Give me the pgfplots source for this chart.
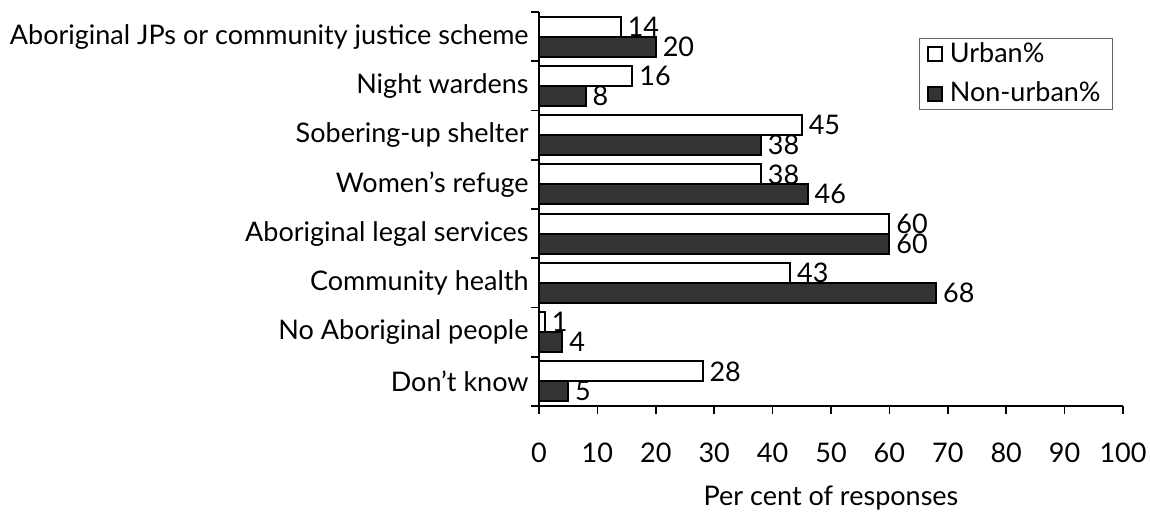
\documentclass[border=0pt]{standalone}
\usepackage{pgfplots}
\pgfplotsset{compat=1.18}
\usepackage{fontspec}
\setmainfont{Lato}
\definecolor{darkbar}{RGB}{51,51,51}
\begin{document}
\fontsize{13.5}{16}\selectfont
\begin{tikzpicture}
\begin{axis}[
    at={(269.5pt,55pt)}, anchor=south west,
    scale only axis,
    width=292pt, height=197pt,
    xbar, bar width=10pt,
    xmin=0, xmax=100,
    ymin=-0.5, ymax=7.5,
    axis x line*=bottom,
    axis y line*=left,
    axis line style={line width=0.8pt},
    tick align=outside,
    major tick length=4pt,
    tick style={black, line width=0.8pt},
    xtick={0,10,...,100},
    xticklabel style={yshift=-10pt},
    ytick={-0.5,0.5,...,7.5},
    yticklabels={},
    extra y ticks={0,1,2,3,4,5,6,7},
    extra y tick labels={Don’t know, No Aboriginal people, Community health,
        Aboriginal legal services, Women’s refuge, Sobering-up shelter,
        Night wardens, Aboriginal JPs or community justice scheme},
    extra y tick style={tick style={draw=none}, tick label style={xshift=3.5pt}},
    /pgf/number format/assume math mode=true,
    xlabel={Per cent of responses},
    xlabel style={at={(axis description cs:0.5,0)}, anchor=center, yshift=-46pt},
    nodes near coords,
    nodes near coords style={font=\fontsize{13.5}{16}\selectfont, black, inner sep=3pt},
    legend style={at={(0.983,0.935)}, anchor=north east, draw=black!60,
        line width=0.5pt, row sep=4pt, inner xsep=4pt, inner ysep=0pt,
        font=\fontsize{13.5}{16}\selectfont},
    legend cell align=left,
    legend image code/.code={\path[draw=none, fill=none] (0pt,0pt) -- (9pt,0pt);
        \draw[#1, line width=0.7pt] (0pt,-3.5pt) rectangle (7pt,3.5pt);},
]
\addplot[fill=white, draw=black, line width=1pt, bar shift=5pt] coordinates {
    (28,0) (1,1) (43,2) (60,3) (38,4) (45,5) (16,6) (14,7)
};
\addlegendentry{Urban\%}
\addplot[fill=darkbar, draw=black, line width=1pt, bar shift=-5pt] coordinates {
    (5,0) (4,1) (68,2) (60,3) (46,4) (38,5) (8,6) (20,7)
};
\addlegendentry{Non-urban\%}
\end{axis}
\pgfresetboundingbox
\useasboundingbox (0,0) rectangle (575pt,258pt);
\end{tikzpicture}
\end{document}
